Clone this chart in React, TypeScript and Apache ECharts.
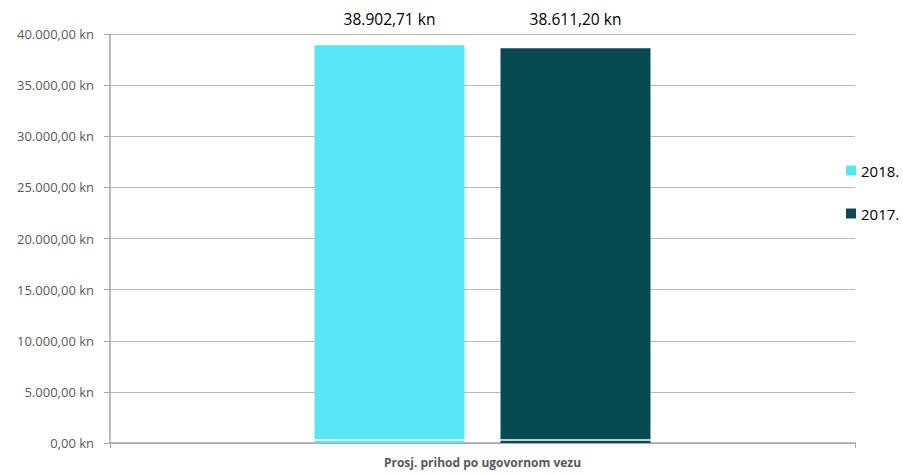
import React, { useEffect, useRef } from "react";
import * as echarts from "echarts";

const categories = ["Prosj. prihod po ugovornom vezu"];
const seriesNames = ["2018.", "2017."];
const values2018 = [38902.71];
const values2017 = [38611.2];
const yMin = 0;
const yMax = 40000;
const yInterval = 5000;

function fmtKn(v: number): string {
  const fixed = v.toFixed(2);
  const [intPart, dec] = fixed.split(".");
  const withDots = intPart.replace(/\B(?=(\d{3})+(?!\d))/g, ".");
  return `${withDots},${dec} kn`;
}

export default function App() {
  const ref = useRef<HTMLDivElement>(null);
  useEffect(() => {
    if (!ref.current) return;
    const chart = echarts.init(ref.current, undefined, { renderer: "svg" });
    const font = "Open Sans";
    chart.setOption({
      animation: false,
      textStyle: { fontFamily: font },
      grid: { left: 110, right: 48, top: 34, bottom: 31, containLabel: false },
      legend: {
        orient: "vertical",
        left: 846,
        top: 163,
        itemWidth: 10,
        itemHeight: 10,
        itemGap: 28,
        icon: "rect",
        padding: 0,
        textStyle: { fontSize: 15, color: "#000", fontFamily: font },
        formatter: (n: string) => n,
        data: seriesNames,
      },
      xAxis: {
        type: "category",
        data: categories,
        axisLine: { lineStyle: { color: "#a6a6a6", width: 1.5 } },
        axisTick: { show: true, length: 5, lineStyle: { color: "#a6a6a6" } },
        axisLabel: { color: "#595959", fontSize: 12, fontWeight: "bold", margin: 13, fontFamily: font },
      },
      yAxis: {
        type: "value",
        min: yMin,
        max: yMax,
        interval: yInterval,
        axisLine: { show: true, lineStyle: { color: "#a6a6a6", width: 1.5 } },
        axisTick: { show: true, length: 6, lineStyle: { color: "#a6a6a6" } },
        axisLabel: { color: "#595959", fontSize: 13, margin: 16, formatter: (v: number) => fmtKn(v), fontFamily: font },
        splitLine: { lineStyle: { color: "#b8b8b8", width: 1 } },
      },
      series: [
        {
          name: seriesNames[0],
          type: "bar",
          data: values2018,
          barWidth: 150,
          barGap: "24%",
          itemStyle: { color: "#58e6f5" },
          label: { show: true, position: "top", distance: 18, color: "#000", fontSize: 15.5, fontFamily: font, formatter: (p: any) => fmtKn(p.value) },
          markLine: {
            silent: true,
            symbol: "none",
            label: { show: false },
            lineStyle: { color: "#fff", width: 1.5, type: "solid" },
            data: [{ yAxis: 300 }],
          },
        },
        {
          name: seriesNames[1],
          type: "bar",
          data: values2017,
          barWidth: 150,
          itemStyle: { color: "#084a52" },
          label: { show: true, position: "top", distance: 21, color: "#000", fontSize: 15.5, fontFamily: font, formatter: (p: any) => fmtKn(p.value) },
        },
      ],
    });
    return () => chart.dispose();
  }, []);
  return <div ref={ref} style={{ width: 903, height: 474, position: "absolute", left: 0, top: 0 }} />;
}
